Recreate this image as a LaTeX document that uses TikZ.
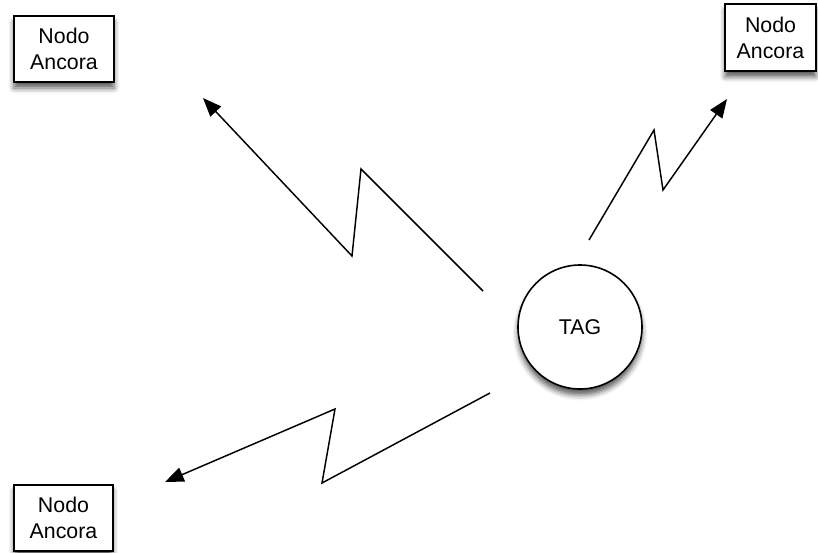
\documentclass[tikz,border=0pt]{standalone}
\usepackage{fontspec}
\setmainfont{Liberation Sans}
\usetikzlibrary{arrows.meta,shadows.blur}
\tikzset{
  anchorbox/.style={draw=black, line width=1.4pt, fill=white, align=center,
    font=\fontsize{16pt}{19.5pt}\selectfont, inner sep=0pt,
    blur shadow={shadow xshift=0pt, shadow yshift=-4.5pt, shadow blur radius=4pt, shadow opacity=65}},
  tagnode/.style={circle, draw=black, line width=1.2pt, fill=white,
    font=\fontsize{16pt}{18pt}\selectfont, inner sep=0pt, minimum size=93pt,
    blur shadow={shadow xshift=0pt, shadow yshift=-4.5pt, shadow blur radius=4pt, shadow opacity=65}},
  link/.style={draw=black, line width=1.1pt, line join=miter,
    -{Triangle[length=14pt,width=11pt]}}
}
\begin{document}
\begin{tikzpicture}[x=0.75pt, y=-0.75pt]
  \useasboundingbox (0,0) rectangle (818,553);

  % anchor nodes
  \node[anchorbox, minimum width=75pt, minimum height=49.5pt] (a1) at (64,49) {Nodo\\Ancora};
  \node[anchorbox, minimum width=68pt, minimum height=50pt] (a2) at (770.5,37.5) {Nodo\\Ancora};
  \node[anchorbox, minimum width=74pt, minimum height=50pt] (a3) at (63.5,518) {Nodo\\Ancora};

  % tag
  \node[tagnode] (tag) at (580,327) {TAG};

  % radio links: start near the tag, zig-zag, end with an arrowhead
  \coordinate (s1) at (483,291);
  \coordinate (z1a) at (361,169);
  \coordinate (z1b) at (352,256);
  \coordinate (e1) at (203,98);

  \coordinate (s2) at (589,240);
  \coordinate (z2a) at (654,130);
  \coordinate (z2b) at (663,190);
  \coordinate (e2) at (727,99);

  \coordinate (s3) at (490,393);
  \coordinate (z3a) at (322,483);
  \coordinate (z3b) at (335,409);
  \coordinate (e3) at (165,482);

  \draw[link] (s1) -- (z1a) -- (z1b) -- (e1);
  \draw[link] (s2) -- (z2a) -- (z2b) -- (e2);
  \draw[link] (s3) -- (z3a) -- (z3b) -- (e3);
\end{tikzpicture}
\end{document}
